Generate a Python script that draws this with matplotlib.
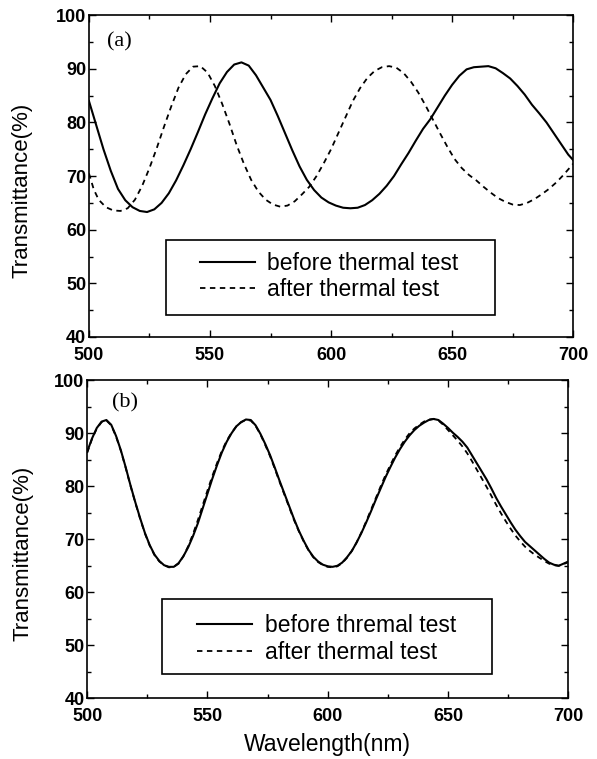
import matplotlib
matplotlib.use("Agg")
import matplotlib.pyplot as plt
from matplotlib.patches import Rectangle
from matplotlib.ticker import MultipleLocator

# ---- data ----
# panel (a)
wl_a = [500, 503, 506, 509, 512, 515, 518, 521, 524, 527, 530, 533, 536, 539,
        542, 545, 548, 551, 554, 557, 560, 563, 566, 569, 572, 575, 578, 581,
        584, 587, 590, 593, 596, 599, 602, 605, 608, 611, 614, 617, 620, 623,
        626, 629, 632, 635, 638, 641, 644, 647, 650, 653, 656, 659, 662, 665,
        668, 671, 674, 677, 680, 683, 686, 689, 692, 695, 698, 700]
before_a = [84.0, 79.5, 75.0, 71.0, 67.6, 65.5, 64.2, 63.5, 63.3, 63.8, 65.0,
            66.8, 69.2, 72.0, 75.0, 78.2, 81.5, 84.5, 87.3, 89.4, 90.8, 91.2,
            90.6, 88.8, 86.5, 84.2, 81.2, 78.0, 74.8, 71.8, 69.3, 67.4, 66.0,
            65.1, 64.5, 64.1, 64.0, 64.1, 64.6, 65.5, 66.7, 68.2, 70.0, 72.2,
            74.3, 76.6, 78.8, 80.6, 82.8, 85.0, 87.0, 88.7, 89.9, 90.3, 90.4,
            90.5, 90.1, 89.2, 88.2, 86.8, 85.2, 83.3, 81.7, 80.0, 78.0, 76.0,
            74.0, 73.0]

wl_a2 = [500, 502, 504, 507, 510, 513, 516, 519, 522, 525, 528, 531, 534, 537,
         540, 543, 546, 549, 552, 555, 558, 561, 564, 567, 570, 573, 576, 579,
         582, 585, 588, 591, 594, 597, 600, 603, 606, 609, 612, 615, 618, 621,
         624, 627, 630, 633, 636, 639, 642, 645, 648, 651, 654, 657, 660, 663,
         666, 669, 672, 675, 678, 681, 684, 687, 690, 693, 696, 700]
after_a = [70.5, 67.5, 65.6, 64.2, 63.6, 63.5, 64.0, 65.6, 68.2, 71.5, 75.2,
           79.2, 83.0, 86.5, 89.0, 90.4, 90.5, 89.3, 86.8, 83.5, 79.8, 75.8,
           72.3, 69.3, 67.1, 65.6, 64.7, 64.3, 64.5, 65.3, 66.6, 68.0, 70.0,
           72.4, 75.0, 78.0, 81.0, 84.0, 86.4, 88.3, 89.6, 90.3, 90.5, 90.2,
           89.2, 87.6, 85.6, 83.2, 80.6, 78.0, 75.5, 73.2, 71.5, 70.2, 69.2,
           68.0, 66.9, 65.9, 65.2, 64.7, 64.6, 65.0, 65.7, 66.6, 67.6, 68.8,
           70.2, 72.3]

# panel (b)
wl_b = list(range(500, 701, 2))
before_b = [86.5, 89.0, 91.0, 92.2, 92.5, 91.6, 89.5, 86.8, 83.6, 80.2, 77.0,
            74.0, 71.2, 68.9, 67.1, 65.9, 65.1, 64.8, 64.8, 65.5, 66.8, 68.5,
            70.6, 73.0, 75.8, 78.6, 81.4, 84.0, 86.4, 88.4, 90.0, 91.3, 92.1,
            92.6, 92.5, 91.5, 89.9, 88.0, 85.9, 83.5, 81.0, 78.6, 76.2, 73.8,
            71.6, 69.7, 68.0, 66.7, 65.8, 65.2, 64.9, 64.8, 65.0, 65.6, 66.6,
            67.8, 69.4, 71.2, 73.2, 75.3, 77.5, 79.6, 81.7, 83.6, 85.4, 87.0,
            88.4, 89.6, 90.6, 91.4, 92.0, 92.5, 92.7, 92.5, 91.8, 91.0, 90.1,
            89.3, 88.4, 87.3, 85.8, 84.3, 82.8, 81.3, 79.6, 77.8, 76.2, 74.7,
            73.2, 71.8, 70.6, 69.5, 68.7, 67.9, 67.1, 66.3, 65.6, 65.2, 65.0,
            65.4, 65.8]
after_b = [86.3, 88.9, 90.9, 92.1, 92.4, 91.5, 89.4, 86.7, 83.5, 80.1, 76.9,
           73.9, 71.1, 68.8, 67.0, 65.8, 65.1, 64.7, 64.8, 65.4, 66.8, 68.7,
           71.0, 73.6, 76.4, 79.2, 81.9, 84.4, 86.7, 88.6, 90.1, 91.3, 92.1,
           92.5, 92.4, 91.4, 89.8, 87.8, 85.7, 83.3, 80.8, 78.4, 76.0, 73.6,
           71.5, 69.6, 67.9, 66.6, 65.7, 65.1, 64.8, 64.7, 64.9, 65.5, 66.5,
           67.8, 69.4, 71.3, 73.4, 75.6, 77.8, 80.0, 82.1, 84.0, 85.8, 87.4,
           88.8, 90.0, 90.9, 91.6, 92.2, 92.6, 92.7, 92.4, 91.6, 90.6, 89.6,
           88.6, 87.5, 86.2, 84.7, 83.1, 81.5, 79.9, 78.2, 76.5, 74.9, 73.4,
           72.0, 70.7, 69.6, 68.6, 67.8, 67.1, 66.5, 65.9, 65.4, 65.1, 65.0,
           65.3, 65.7]

x_ticks = [500, 550, 600, 650, 700]
y_ticks = [40, 50, 60, 70, 80, 90, 100]

plt.rcParams['font.family'] = ['Liberation Sans', 'DejaVu Sans']

DASH = (0, (3, 2.5))


def style_axes(ax, ylab_x):
    ax.set_xlim(500, 700)
    ax.set_ylim(40, 100)
    ax.set_xticks(x_ticks)
    ax.set_yticks(y_ticks)
    ax.xaxis.set_minor_locator(MultipleLocator(25))
    ax.yaxis.set_minor_locator(MultipleLocator(5))
    ax.tick_params(which='both', direction='in', top=True, right=True,
                   labelsize=13, width=1.0)
    ax.tick_params(which='major', length=5)
    ax.tick_params(which='minor', length=3)
    ax.tick_params(axis='x', pad=7)
    ax.tick_params(axis='y', pad=2)
    for lab in ax.get_xticklabels() + ax.get_yticklabels():
        lab.set_fontweight('bold')
    for sp in ax.spines.values():
        sp.set_linewidth(1.2)
    ax.set_ylabel('Transmittance(%)', fontsize=16)
    ax.yaxis.set_label_coords(ylab_x, 0.455)


def add_legend(ax, box, anchor):
    # framed box drawn separately so its size matches the reference
    ax.add_patch(Rectangle(box[:2], box[2], box[3], transform=ax.transAxes,
                           fill=False, edgecolor='black', lw=1.2, zorder=5))
    ax.legend(loc='center left', bbox_to_anchor=anchor, frameon=False,
              fontsize=16.5, handlelength=2.4, handletextpad=0.55,
              borderpad=0, borderaxespad=0, labelspacing=0.15)


fig = plt.figure(figsize=(5.97, 7.59), dpi=100)
ax1 = fig.add_axes([0.149, 0.556, 0.811, 0.424])
ax2 = fig.add_axes([0.146, 0.080, 0.806, 0.419])

# (a)
ax1.plot(wl_a, before_a, color='black', lw=1.5, ls='-', label='before thermal test')
ax1.plot(wl_a2, after_a, color='black', lw=1.3, ls=DASH, label='after thermal test')
style_axes(ax1, -0.116)
ax1.text(0.037, 0.916, '(a)', transform=ax1.transAxes, fontsize=16,
         family='Liberation Serif', va='center')
add_legend(ax1, (0.159, 0.068, 0.68, 0.233), (0.229, 0.188))

# (b)
ax2.plot(wl_b, before_b, color='black', lw=1.5, ls='-', label='before thremal test')
ax2.plot(wl_b, after_b, color='black', lw=1.3, ls=DASH, label='after thermal test')
style_axes(ax2, -0.112)
ax2.text(0.052, 0.928, '(b)', transform=ax2.transAxes, fontsize=16,
         family='Liberation Serif', va='center')
add_legend(ax2, (0.156, 0.075, 0.686, 0.236), (0.229, 0.186))
ax2.set_xlabel('Wavelength(nm)', fontsize=16.5, labelpad=6)

fig.savefig('out.png', dpi=100)
